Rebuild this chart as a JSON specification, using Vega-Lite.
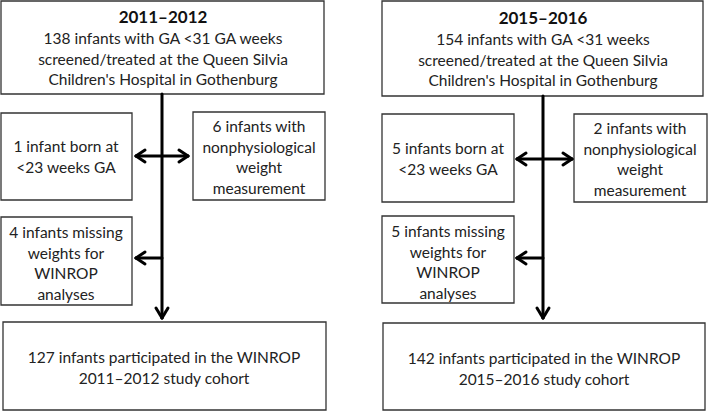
{
  "$schema": "https://vega.github.io/schema/vega-lite/v6.json",
  "width": 709,
  "height": 412,
  "autosize": {"type": "fit", "contains": "padding"},
  "padding": 0,
  "background": "white",
  "config": {"view": {"stroke": null}},
  "datasets": {
    "boxes": [
      {"id": "L-top", "x": 1, "x2": 324, "y": 1, "y2": 94},
      {"id": "L-b1", "x": 1, "x2": 132, "y": 113, "y2": 200},
      {"id": "L-b2", "x": 193, "x2": 325, "y": 112, "y2": 200},
      {"id": "L-b3", "x": 1, "x2": 132, "y": 217, "y2": 305},
      {"id": "L-bot", "x": 3, "x2": 326, "y": 322, "y2": 410},
      {"id": "R-top", "x": 382, "x2": 703, "y": 1, "y2": 96},
      {"id": "R-b1", "x": 382, "x2": 514, "y": 114, "y2": 202},
      {"id": "R-b2", "x": 574, "x2": 707, "y": 114, "y2": 202},
      {"id": "R-b3", "x": 382, "x2": 514, "y": 216, "y2": 303},
      {"id": "R-bot", "x": 383, "x2": 705, "y": 323, "y2": 410}
    ],
    "lines": [
      {"x": 162, "x2": 162, "y": 94, "y2": 318},
      {"x": 136, "x2": 188, "y": 156, "y2": 156},
      {"x": 136, "x2": 162, "y": 258, "y2": 258},
      {"x": 136, "x2": 145, "y": 156, "y2": 150},
      {"x": 136, "x2": 145, "y": 156, "y2": 162},
      {"x": 188, "x2": 179, "y": 156, "y2": 150},
      {"x": 188, "x2": 179, "y": 156, "y2": 162},
      {"x": 136, "x2": 145, "y": 258, "y2": 252},
      {"x": 136, "x2": 145, "y": 258, "y2": 264},
      {"x": 162, "x2": 156, "y": 318, "y2": 308},
      {"x": 162, "x2": 168, "y": 318, "y2": 308},
      {"x": 543, "x2": 543, "y": 96, "y2": 318},
      {"x": 517, "x2": 572, "y": 159, "y2": 159},
      {"x": 517, "x2": 543, "y": 258, "y2": 258},
      {"x": 517, "x2": 526, "y": 159, "y2": 153},
      {"x": 517, "x2": 526, "y": 159, "y2": 165},
      {"x": 572, "x2": 563, "y": 159, "y2": 153},
      {"x": 572, "x2": 563, "y": 159, "y2": 165},
      {"x": 517, "x2": 526, "y": 258, "y2": 252},
      {"x": 517, "x2": 526, "y": 258, "y2": 264},
      {"x": 543, "x2": 537, "y": 318, "y2": 308},
      {"x": 543, "x2": 549, "y": 318, "y2": 308}
    ],
    "titles": [
      {"x": 163, "y": 18, "label": "2011–2012"},
      {"x": 543, "y": 19, "label": "2015–2016"}
    ],
    "texts": [
      {"x": 163, "y": 39, "label": "138 infants with GA <31 GA weeks\nscreened/treated at the Queen Silvia\nChildren's Hospital in Gothenburg"},
      {"x": 66, "y": 147, "label": "1 infant born at\n<23 weeks GA"},
      {"x": 259, "y": 127, "label": "6 infants with\nnonphysiological\nweight\nmeasurement"},
      {"x": 66, "y": 233, "label": "4 infants missing\nweights for\nWINROP\nanalyses"},
      {"x": 164, "y": 358, "label": "127 infants participated in the WINROP\n2011–2012 study cohort"},
      {"x": 543, "y": 40, "label": "154 infants with GA <31 weeks\nscreened/treated at the Queen Silvia\nChildren's Hospital in Gothenburg"},
      {"x": 448, "y": 149, "label": "5 infants born at\n<23 weeks GA"},
      {"x": 640, "y": 129, "label": "2 infants with\nnonphysiological\nweight\nmeasurement"},
      {"x": 448, "y": 232, "label": "5 infants missing\nweights for\nWINROP\nanalyses"},
      {"x": 544, "y": 359, "label": "142 infants participated in the WINROP\n2015–2016 study cohort"}
    ]
  },
  "layer": [
    {
      "data": {"name": "boxes"},
      "mark": {"type": "rect", "fill": "white", "stroke": "#333333", "strokeWidth": 1.3},
      "encoding": {
        "x": {"field": "x", "type": "quantitative", "scale": {"domain": [0, 709], "nice": false, "zero": false}, "axis": null},
        "x2": {"field": "x2"},
        "y": {"field": "y", "type": "quantitative", "scale": {"domain": [0, 412], "nice": false, "zero": false, "reverse": true}, "axis": null},
        "y2": {"field": "y2"}
      }
    },
    {
      "data": {"name": "lines"},
      "mark": {"type": "rule", "stroke": "black", "strokeWidth": 3, "strokeCap": "round"},
      "encoding": {
        "x": {"field": "x", "type": "quantitative"},
        "x2": {"field": "x2"},
        "y": {"field": "y", "type": "quantitative"},
        "y2": {"field": "y2"}
      }
    },
    {
      "data": {"name": "titles"},
      "mark": {"type": "text", "font": "Lato", "fontSize": 17, "fontWeight": "bold", "color": "#111111", "align": "center", "baseline": "middle"},
      "encoding": {
        "x": {"field": "x", "type": "quantitative"},
        "y": {"field": "y", "type": "quantitative"},
        "text": {"field": "label"}
      }
    },
    {
      "data": {"name": "texts"},
      "mark": {"type": "text", "font": "Lato", "fontSize": 15.5, "color": "#222222", "align": "center", "baseline": "middle", "lineBreak": "\n", "lineHeight": 20.5},
      "encoding": {
        "x": {"field": "x", "type": "quantitative"},
        "y": {"field": "y", "type": "quantitative"},
        "text": {"field": "label"}
      }
    }
  ]
}
